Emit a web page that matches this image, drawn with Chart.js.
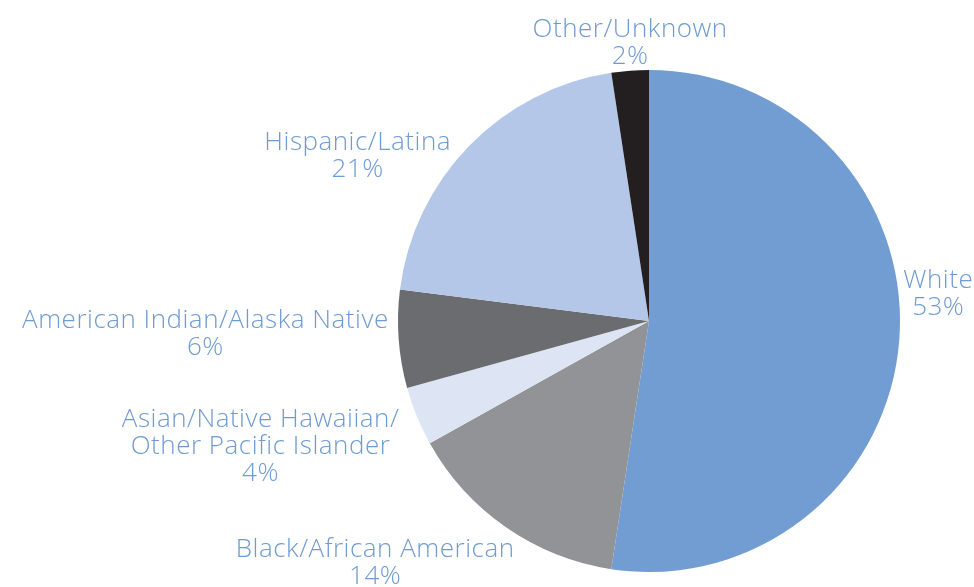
<!DOCTYPE html>
<html>
<head>
<meta charset="utf-8">
<script src="https://cdn.jsdelivr.net/npm/chart.js@4"></script>
<style>
  html, body { margin: 0; padding: 0; background: #fff; }
  #wrap { width: 974px; height: 587px; }
</style>
</head>
<body>
<div id="wrap"><canvas id="grafica"></canvas></div>
<script>
// porciones, en orden horario desde arriba
const etiquetas = ["White", "Black/African American", "Asian/Native Hawaiian/Other Pacific Islander", "American Indian/Alaska Native", "Hispanic/Latina", "Other/Unknown"];
const valores = [52.4, 14.5, 3.8, 6.3, 20.6, 2.4];
const porcentajes = ["53%", "14%", "4%", "6%", "21%", "2%"];
// lineas de texto de cada etiqueta
const lineasEtiqueta = [
  ["White"],
  ["Black/African American"],
  ["Asian/Native Hawaiian/", "Other Pacific Islander"],
  ["American Indian/Alaska Native"],
  ["Hispanic/Latina"],
  ["Other/Unknown"]
];
const colores = ['#729dd2', '#929396', '#dde5f4', '#6b6c70', '#b4c7e8', '#231f20'];

// ajuste fino de cada etiqueta (px)
const ajustes = [
  { dx: -2, dy: -46 },
  { dx: 12, dy: 31 },
  { dx: -12, dy: 28 },
  { dx: -4, dy: -5 },
  { dx: -14, dy: 15 },
  { dx: 98, dy: -22 }
];

const pluginEtiquetas = {
  id: 'etiquetas',
  afterDraw(chart) {
    const ctx = chart.ctx;
    const meta = chart.getDatasetMeta(0);
    const alto = 27;
    ctx.save();
    ctx.font = '300 26px "Open Sans", Lato, sans-serif';
    ctx.letterSpacing = '0.5px';
    ctx.fillStyle = '#6f9bd3';
    ctx.textAlign = 'center';
    ctx.textBaseline = 'middle';
    meta.data.forEach((arc, i) => {
      const p = arc.getProps(['x', 'y', 'startAngle', 'endAngle', 'outerRadius'], true);
      const ang = (p.startAngle + p.endAngle) / 2;
      const r = p.outerRadius + 6;
      const ax = p.x + Math.cos(ang) * r;
      const ay = p.y + Math.sin(ang) * r;
      const lineas = lineasEtiqueta[i].concat([porcentajes[i]]);
      const ancho = Math.max(...lineas.map(l => ctx.measureText(l).width));
      const lado = Math.cos(ang) >= 0 ? 1 : -1;
      const cx = ax + lado * ancho / 2 + ajustes[i].dx;
      const cy = ay + ajustes[i].dy;
      const y0 = cy - (lineas.length - 1) * alto / 2;
      lineas.forEach((l, k) => ctx.fillText(l, cx, y0 + k * alto));
    });
    ctx.restore();
  }
};

const $grafica = document.querySelector('#grafica');
new Chart($grafica, {
  type: 'pie',
  data: {
    labels: etiquetas,
    datasets: [{
      data: valores,
      backgroundColor: colores,
      borderWidth: 0
    }]
  },
  options: {
    responsive: true,
    maintainAspectRatio: false,
    animation: false,
    layout: { padding: { top: 70, bottom: 15, left: 398, right: 74 } },
    plugins: {
      legend: { display: false },
      tooltip: { enabled: false }
    }
  },
  plugins: [pluginEtiquetas]
});
</script>
</body>
</html>
